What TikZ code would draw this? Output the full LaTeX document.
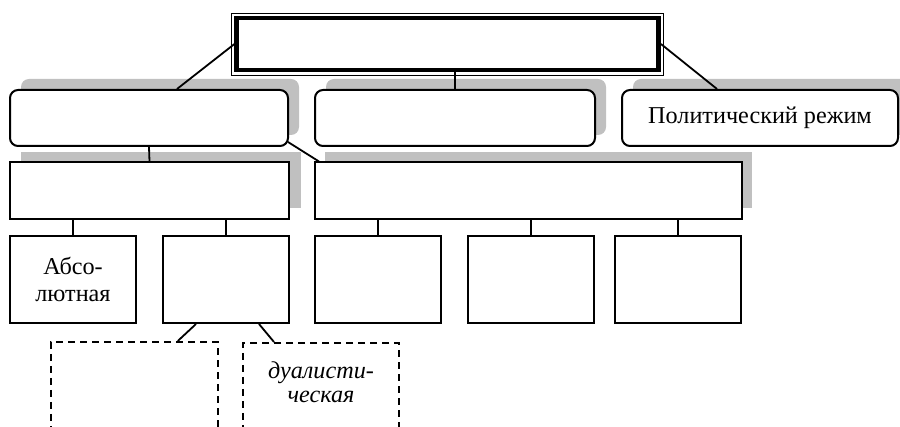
\documentclass[tikz,border=0pt]{standalone}
\usepackage{fontspec}
\setmainfont{Liberation Serif}
\usetikzlibrary{calc}
\definecolor{shadegray}{RGB}{192,192,192}
\begin{document}
\begin{tikzpicture}[x=1pt,y=-1pt,
  every node/.style={inner sep=0pt},
  txt/.style={font=\fontsize{24.2}{27}\selectfont, align=center},
  rbox/.style={draw, line width=2pt, rounded corners=8pt, fill=white, minimum height=56pt},
  sbox/.style={draw, line width=2pt, fill=white},
  dbox/.style={draw, line width=2pt, dash pattern=on 7pt off 5pt},
  shd/.style={fill=shadegray},
  conn/.style={line width=1.8pt}]
\useasboundingbox (0,0) rectangle (900,427);
\fill[white] (0,0) rectangle (900,427);

% top box
\node[draw, line width=4.5pt, minimum width=422pt, minimum height=52pt] (top) at (447.7,44) {};
\draw[line width=1pt] ($(top.north west)+(-2.6,-2.3)$) rectangle ($(top.south east)+(2.6,2.8)$);

% row 1 shadows
\fill[shd, rounded corners=8pt] (21,79) rectangle (299,135);
\fill[shd, rounded corners=8pt] (326,79) rectangle (606,135);
\fill[shd, rounded corners=8pt] (633,79) rectangle (909,135);
% row 2 shadows
\fill[shd] (21,152) rectangle (301,208);
\fill[shd] (325,152) rectangle (752,208);

% row 1
\node[rbox, minimum width=278pt] (l1) at (149,118) {};
\node[rbox, minimum width=280pt] (m1) at (455,118) {};
\node[rbox, minimum width=276pt, txt] (r1) at (760,118) {Политический режим};

% row 2
\node[sbox, minimum width=279pt, minimum height=57pt] (l2) at (149.5,191) {};
\node[sbox, minimum width=427pt, minimum height=57pt] (m2) at (528.5,191) {};

% row 3
\node[sbox, minimum width=126pt, minimum height=86.5pt, txt] (b1) at (73,279.75) {Абсо-\\лютная};
\node[sbox, minimum width=126pt, minimum height=86.5pt] (b2) at (226,279.75) {};
\node[sbox, minimum width=126pt, minimum height=86.5pt] (b3) at (377.6,279.75) {};
\node[sbox, minimum width=126pt, minimum height=86.5pt] (b4) at (531,279.75) {};
\node[sbox, minimum width=126pt, minimum height=86.5pt] (b5) at (678.3,279.75) {};

% dashed boxes (cut by the page edge)
\begin{scope}
\clip (0,0) rectangle (900,427);
\node[dbox, minimum width=167pt, minimum height=110pt] (d1) at (134.3,397) {};
\node[dbox, minimum width=156pt, minimum height=110pt] (d2) at (321,398) {};
\end{scope}
\node[txt, font=\fontsize{24.2}{24}\selectfont\itshape] (d2t) at (321,382) {дуалисти-\\ческая};

% connectors
\draw[conn] ($(l1.north)+(28,0)$) -- (top.west);
\draw[conn] (top.east) -- ($(r1.north)+(-43,0)$);
\draw[conn] (m1.north) -- (m1.north |- top.south);
\draw[conn] (l1.south) -- (l2.north);
\draw[conn] ($(l1.south east)+(-1,-5)$) -- ($(m2.north west)+(5,0)$);
\foreach \b in {b1,b2} \draw[conn] (\b.north) -- (\b.north |- l2.south);
\foreach \b in {b3,b4,b5} \draw[conn] (\b.north) -- (\b.north |- m2.south);
\draw[conn] ($(b2.south west)+(34,0)$) -- ($(d1.north east)+(-41,0)$);
\draw[conn] ($(b2.south east)+(-31,0)$) -- ($(d2.north west)+(32,0)$);
\end{tikzpicture}
\end{document}
